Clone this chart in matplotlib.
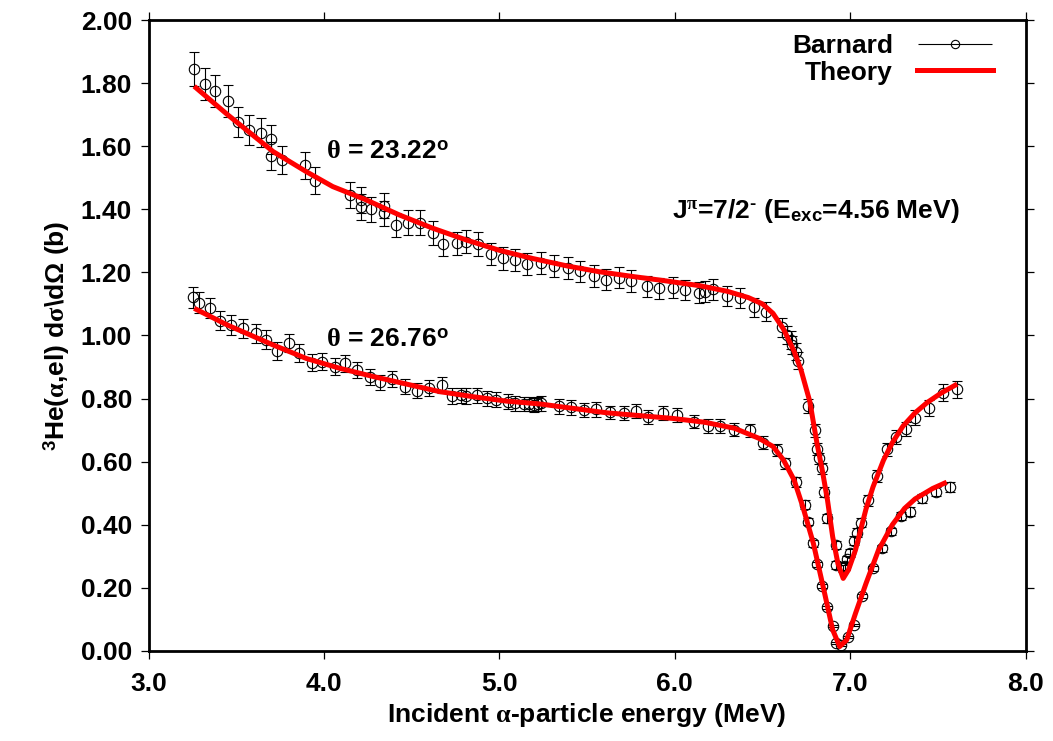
import matplotlib
matplotlib.use('Agg')
import matplotlib.pyplot as plt
from matplotlib.ticker import FormatStrFormatter
from matplotlib.legend_handler import HandlerErrorbar

plt.rcParams['font.family'] = ['Liberation Sans', 'DejaVu Sans']
plt.rcParams['font.weight'] = 'bold'
plt.rcParams['font.size'] = 19
plt.rcParams['mathtext.fontset'] = 'custom'
plt.rcParams['mathtext.rm'] = 'Liberation Sans:bold'
plt.rcParams['mathtext.bf'] = 'Liberation Sans:bold'
plt.rcParams['mathtext.it'] = 'Liberation Serif'

# theta = 23.22 deg, Barnard data
e_23 = [3.26, 3.32, 3.38, 3.45, 3.51, 3.57, 3.64, 3.70, 3.70, 3.76, 3.89, 3.95,
        4.15, 4.21, 4.21, 4.27, 4.34, 4.34, 4.41, 4.48, 4.55, 4.62, 4.68, 4.76,
        4.81, 4.88, 4.95, 5.02, 5.09, 5.16, 5.24, 5.31, 5.39, 5.46, 5.54, 5.61,
        5.68, 5.75, 5.84, 5.91, 5.99, 6.06, 6.14, 6.17, 6.22, 6.30, 6.37, 6.45,
        6.52, 6.61, 6.64, 6.66, 6.67, 6.69, 6.70, 6.76, 6.80, 6.81, 6.82, 6.84,
        6.85, 6.87, 6.92, 6.92, 6.96, 6.97, 6.98, 7.00, 7.02, 7.04, 7.06, 7.10,
        7.15, 7.21, 7.26, 7.32, 7.37, 7.45, 7.53, 7.61]
s_23 = [1.845, 1.797, 1.775, 1.744, 1.676, 1.651, 1.643, 1.622, 1.569, 1.556, 1.539, 1.491,
        1.445, 1.429, 1.408, 1.400, 1.412, 1.387, 1.350, 1.358, 1.358, 1.326, 1.290, 1.292,
        1.297, 1.290, 1.258, 1.245, 1.239, 1.227, 1.229, 1.220, 1.215, 1.203, 1.188, 1.177,
        1.183, 1.173, 1.156, 1.149, 1.151, 1.144, 1.136, 1.139, 1.147, 1.125, 1.120, 1.089,
        1.076, 1.026, 1.002, 0.986, 0.970, 0.949, 0.920, 0.776, 0.700, 0.640, 0.611, 0.579,
        0.505, 0.420, 0.336, 0.273, 0.262, 0.270, 0.290, 0.310, 0.350, 0.375, 0.407, 0.477,
        0.555, 0.639, 0.677, 0.703, 0.740, 0.769, 0.819, 0.829]
err_23 = [0.053, 0.050, 0.050, 0.050, 0.047, 0.047, 0.047, 0.046, 0.045, 0.045, 0.044, 0.043,
          0.042, 0.041, 0.041, 0.040, 0.041, 0.040, 0.039, 0.039, 0.039, 0.038, 0.037, 0.037,
          0.037, 0.037, 0.036, 0.036, 0.036, 0.035, 0.035, 0.035, 0.035, 0.034, 0.034, 0.034,
          0.034, 0.034, 0.033, 0.033, 0.033, 0.033, 0.033, 0.033, 0.033, 0.032, 0.032, 0.031,
          0.031, 0.030, 0.029, 0.029, 0.028, 0.028, 0.027, 0.023, 0.021, 0.019, 0.018, 0.017,
          0.016, 0.015, 0.013, 0.012, 0.012, 0.012, 0.012, 0.012, 0.013, 0.014, 0.015, 0.017,
          0.019, 0.021, 0.022, 0.023, 0.024, 0.025, 0.026, 0.026]

# theta = 26.76 deg, Barnard data
e_26 = [3.255, 3.29, 3.35, 3.41, 3.47, 3.54, 3.61, 3.67, 3.73, 3.80, 3.86, 3.93,
        3.99, 4.06, 4.12, 4.19, 4.26, 4.32, 4.39, 4.46, 4.53, 4.60, 4.67, 4.73,
        4.78, 4.81, 4.87, 4.93, 4.98, 5.05, 5.09, 5.14, 5.17, 5.20, 5.22, 5.24,
        5.34, 5.41, 5.48, 5.55, 5.63, 5.71, 5.78, 5.85, 5.93, 6.01, 6.11, 6.19,
        6.26, 6.34, 6.43, 6.50, 6.58, 6.63, 6.69, 6.74, 6.76, 6.79, 6.81, 6.84,
        6.87, 6.90, 6.92, 6.95, 6.99, 7.02, 7.07, 7.13, 7.18, 7.23, 7.29, 7.34,
        7.41, 7.49, 7.57]
s_26 = [1.121, 1.104, 1.086, 1.047, 1.033, 1.023, 1.007, 0.987, 0.951, 0.977, 0.944, 0.914,
        0.917, 0.901, 0.912, 0.891, 0.868, 0.851, 0.861, 0.838, 0.825, 0.833, 0.843, 0.808,
        0.811, 0.808, 0.811, 0.801, 0.796, 0.790, 0.785, 0.783, 0.783, 0.780, 0.783, 0.785,
        0.775, 0.772, 0.764, 0.766, 0.756, 0.755, 0.761, 0.742, 0.753, 0.748, 0.727, 0.713,
        0.713, 0.702, 0.699, 0.660, 0.638, 0.595, 0.537, 0.463, 0.410, 0.341, 0.275, 0.206,
        0.138, 0.079, 0.026, 0.019, 0.043, 0.082, 0.174, 0.262, 0.325, 0.380, 0.428, 0.442,
        0.484, 0.505, 0.521]
err_26 = [0.033, 0.033, 0.032, 0.031, 0.031, 0.030, 0.030, 0.029, 0.028, 0.029, 0.028, 0.027,
          0.027, 0.027, 0.027, 0.026, 0.026, 0.025, 0.025, 0.025, 0.024, 0.025, 0.025, 0.024,
          0.024, 0.024, 0.024, 0.024, 0.024, 0.023, 0.023, 0.023, 0.023, 0.023, 0.023, 0.023,
          0.023, 0.023, 0.023, 0.023, 0.022, 0.022, 0.022, 0.022, 0.022, 0.022, 0.021, 0.021,
          0.021, 0.021, 0.021, 0.020, 0.019, 0.018, 0.016, 0.014, 0.012, 0.010, 0.008, 0.006,
          0.005, 0.004, 0.003, 0.003, 0.003, 0.004, 0.006, 0.008, 0.010, 0.011, 0.013, 0.013,
          0.014, 0.015, 0.016]

# theory curves
th_e_23 = [3.26, 3.45, 3.71, 3.90, 4.05, 4.24, 4.43, 4.62, 4.81, 5.00, 5.19, 5.39,
           5.57, 5.76, 5.95, 6.14, 6.30, 6.42, 6.50, 6.56, 6.62, 6.68, 6.72, 6.77,
           6.81, 6.84, 6.87, 6.90, 6.93, 6.96, 6.99, 7.03, 7.09, 7.13, 7.19, 7.24,
           7.30, 7.37, 7.44, 7.52, 7.61]
th_s_23 = [1.790, 1.700, 1.583, 1.519, 1.472, 1.430, 1.382, 1.340, 1.303, 1.270, 1.244, 1.220,
           1.202, 1.187, 1.173, 1.158, 1.140, 1.120, 1.100, 1.070, 1.020, 0.950, 0.890, 0.790,
           0.660, 0.575, 0.480, 0.362, 0.277, 0.230, 0.257, 0.320, 0.450, 0.520, 0.605, 0.660,
           0.712, 0.755, 0.788, 0.818, 0.846]
th_e_26 = [3.26, 3.45, 3.71, 3.90, 4.09, 4.28, 4.47, 4.66, 4.85, 5.04, 5.23, 5.61,
           5.99, 6.17, 6.34, 6.48, 6.56, 6.62, 6.68, 6.73, 6.79, 6.85, 6.90, 6.94,
           6.98, 7.03, 7.09, 7.16, 7.24, 7.31, 7.37, 7.47, 7.55]
th_s_26 = [1.086, 1.033, 0.970, 0.927, 0.896, 0.870, 0.846, 0.822, 0.806, 0.792, 0.783, 0.755,
           0.737, 0.725, 0.706, 0.674, 0.648, 0.605, 0.542, 0.457, 0.341, 0.193, 0.067, 0.014,
           0.035, 0.119, 0.214, 0.318, 0.400, 0.452, 0.482, 0.515, 0.535]

fig = plt.figure(figsize=(10.53, 7.41), dpi=100)
ax = fig.add_axes([0.1411, 0.1215, 0.8329, 0.8515])

ebar_kw = dict(fmt='o', mfc='none', mec='black', mew=0.8, ms=7.5, ecolor='black',
               elinewidth=0.8, capsize=3.5, capthick=0.8, zorder=2)
ax.errorbar(e_23, s_23, yerr=err_23, **ebar_kw)
ax.errorbar(e_26, s_26, yerr=err_26, **ebar_kw)
ax.plot(th_e_23, th_s_23, color='red', lw=3.6, zorder=3, solid_capstyle='butt')
ax.plot(th_e_26, th_s_26, color='red', lw=3.6, zorder=3, solid_capstyle='butt')

# legend proxies
h_data = ax.errorbar([], [], xerr=[], fmt='o', mfc='none', mec='black', mew=0.8, ms=6,
                     ecolor='black', elinewidth=0.8, capsize=3, capthick=0.8)
h_th, = ax.plot([], [], color='red', lw=3.6)
ax.legend([h_data, h_th], ['Barnard', 'Theory'], loc='upper right',
          bbox_to_anchor=(0.963, 0.978), frameon=False, markerfirst=False,
          handlelength=2.9, handletextpad=0.9, labelspacing=0.1,
          borderaxespad=0, borderpad=0, fontsize=19,
          handler_map={type(h_data): HandlerErrorbar(xerr_size=1.4)})

ax.text(4.01, 1.56, r'$\theta$ = 23.22$^{\mathrm{o}}$', fontsize=19, fontweight='bold')
ax.text(4.01, 0.965, r'$\theta$ = 26.76$^{\mathrm{o}}$', fontsize=19, fontweight='bold')
ax.text(5.985, 1.372, r'J$^{\pi}$=7/2$^{\text{-}}$ (E$_{\mathrm{exc}}$=4.56 MeV)',
        fontsize=19, fontweight='bold')

ax.set_xlim(3.0, 8.0)
ax.set_ylim(0.0, 2.0)
ax.set_xticks([3.0, 4.0, 5.0, 6.0, 7.0, 8.0])
ax.set_yticks([0.0, 0.2, 0.4, 0.6, 0.8, 1.0, 1.2, 1.4, 1.6, 1.8, 2.0])
ax.xaxis.set_major_formatter(FormatStrFormatter('%.1f'))
ax.yaxis.set_major_formatter(FormatStrFormatter('%.2f'))
ax.tick_params(direction='out', length=6, width=0.9, top=True, right=True,
               labelsize=19)
ax.tick_params(axis='x', pad=9)
ax.tick_params(axis='y', pad=6)
for sp in ax.spines.values():
    sp.set_linewidth(2.0)

ax.set_xlabel(r'Incident $\alpha$-particle energy (MeV)', fontsize=19, fontweight='bold',
              labelpad=4)
ax.set_ylabel(r'$^{\mathrm{3}}\mathrm{He(}\alpha\mathrm{{,}el)\ d}\sigma\mathrm{\backslash d}\Omega\mathrm{\ (b)}$',
              fontsize=19, labelpad=6)

fig.savefig('out.png', dpi=100)
